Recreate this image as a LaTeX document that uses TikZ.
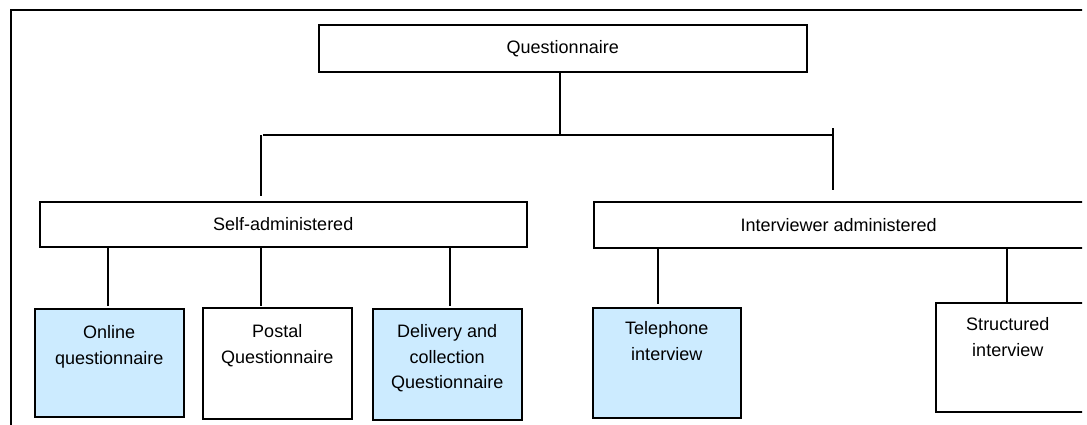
\documentclass[tikz,border=0pt]{standalone}
\usepackage{fontspec}
\setmainfont{Liberation Sans}
\usepackage{tikz}
\usetikzlibrary{positioning}
\definecolor{paleblue}{RGB}{204,235,255}
\newcommand{\leaf}[4]{\parbox[t][#2pt][t]{#1pt}{\centering\rule{0pt}{#3pt}#4}}

\begin{document}
\begin{tikzpicture}[x=1pt, y=-1pt, line width=1.5pt]
  \tikzstyle{every node}=[font=\fontsize{18pt}{25.5pt}\selectfont]
  \tikzstyle{box}=[draw, anchor=north west, inner sep=0pt]
  \tikzstyle{pick}=[box, fill=paleblue]

  \useasboundingbox (0,0) rectangle (1087,424);
  \clip (0,0) rectangle (1082,430);
  \draw (11,10) rectangle (1100,440);

  \node[box, minimum width=488pt, minimum height=47pt] (quest) at (318,24) {Questionnaire};
  \node[box, minimum width=487pt, minimum height=45pt] (self)  at (39,201)  {Self-administered};
  \node[box, minimum width=490pt, minimum height=46pt] (inter) at (593,201) {Interviewer administered};

  \node[pick] (online) at (34,308)  {\leaf{149}{108}{30}{Online\\questionnaire}};
  \node[box]  (postal) at (202,307) {\leaf{149}{111}{30}{Postal\\Questionnaire}};
  \node[pick] (deliv)  at (372,308) {\leaf{149}{111}{29}{Delivery and\\collection\\Questionnaire}};
  \node[pick] (phone)  at (592,307) {\leaf{148}{110}{27}{Telephone\\interview}};
  \node[box]  (struct) at (935,302) {\leaf{144}{109}{28}{Structured\\interview}\hspace*{12pt}};

  \coordinate (spine) at (560,135);
  \coordinate (hl) at (263,135);
  \coordinate (hr) at (833,135);
  \coordinate (jl) at (261,135);
  \coordinate (jr) at (833,128);
  \coordinate (xa) at (108,0);
  \coordinate (xb) at (261,0);
  \coordinate (xc) at (450,0);
  \coordinate (xd) at (658,0);
  \coordinate (xe) at (1007,0);

  \draw (quest.south -| spine) -- (spine);
  \draw (hl) -- (hr);
  \draw (jl) -- ([yshift=5pt]self.north -| jl);
  \draw (jr) -- ([yshift=11pt]inter.north -| jr);
  \draw (self.south -| xa) -- ([yshift=2pt]online.north -| xa);
  \draw (self.south -| xb) -- ([yshift=1pt]postal.north -| xb);
  \draw (self.south -| xc) -- ([yshift=2pt]deliv.north -| xc);
  \draw (inter.south -| xd) -- ([yshift=3pt]phone.north -| xd);
  \draw (inter.south -| xe) -- (struct.north -| xe);
\end{tikzpicture}
\end{document}
